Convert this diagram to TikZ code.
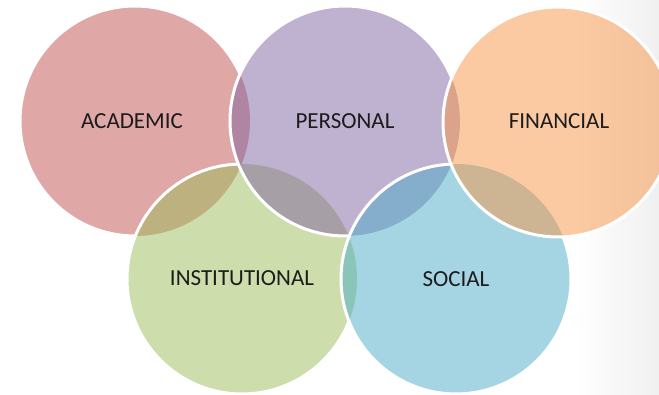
\documentclass[tikz,border=0pt]{standalone}
\usepackage{fontspec}
\setmainfont{Carlito}
\definecolor{acadcol}{HTML}{C0504D}
\definecolor{perscol}{HTML}{8064A2}
\definecolor{fincol}{HTML}{F79646}
\definecolor{instcol}{HTML}{9BBB59}
\definecolor{soccol}{HTML}{4BACC6}
\definecolor{txtcol}{HTML}{1C1C1C}
% clip to everything outside the circle of radius 115 around #1
\newcommand\keepoutside[1]{\clip (#1) circle[radius=115] (-10,404) -- (669,404) -- (669,-10) -- (-10,-10) -- cycle;}
\begin{document}
\begin{tikzpicture}[x=1pt,y=1pt,
  ring/.style={fill=#1, fill opacity=0.5},
  rim/.style={draw=white, line width=3pt},
  ringtext/.style={text=txtcol, font=\fontsize{23}{27}\selectfont,
    inner sep=0pt, text height=15pt, text depth=0pt}]
\useasboundingbox (0,0) rectangle (659,394);
% slide background fading to grey at the right edge
\shade[left color=white, right color=black!6] (575,0) rectangle (659,394);

\coordinate (cA) at (135,273);
\coordinate (cP) at (345,273);
\coordinate (cF) at (558,272);
\coordinate (cI) at (242,115);
\coordinate (cS) at (456,115);

% translucent discs, back to front
\fill[ring=acadcol] (cA) circle[radius=115];
\fill[ring=instcol] (cI) circle[radius=115];
\fill[ring=perscol] (cP) circle[radius=115];
\fill[ring=soccol]  (cS) circle[radius=115];
\fill[ring=fincol]  (cF) circle[radius=115];

% white rims, each hidden where a later disc lies on top
\begin{scope}
  \keepoutside{cI}
  \begin{scope}
    \keepoutside{cP}
    \draw[rim] (cA) circle[radius=115];
  \end{scope}
\end{scope}
\begin{scope}
  \keepoutside{cP}
  \begin{scope}
    \keepoutside{cS}
    \draw[rim] (cI) circle[radius=115];
  \end{scope}
\end{scope}
\begin{scope}
  \keepoutside{cS}
  \begin{scope}
    \keepoutside{cF}
    \draw[rim] (cP) circle[radius=115];
  \end{scope}
\end{scope}
\begin{scope}
  \keepoutside{cF}
  \draw[rim] (cS) circle[radius=115];
\end{scope}
\draw[rim] (cF) circle[radius=115];

\node[ringtext] (acad) at (132,273) {ACADEMIC};
\node[ringtext] (pers) at (345,273) {PERSONAL};
\node[ringtext] (fin)  at (559,273) {FINANCIAL};
\node[ringtext] (inst) at (242,116) {INSTITUTIONAL};
\node[ringtext] (soc)  at (456,115) {SOCIAL};
\end{tikzpicture}
\end{document}
